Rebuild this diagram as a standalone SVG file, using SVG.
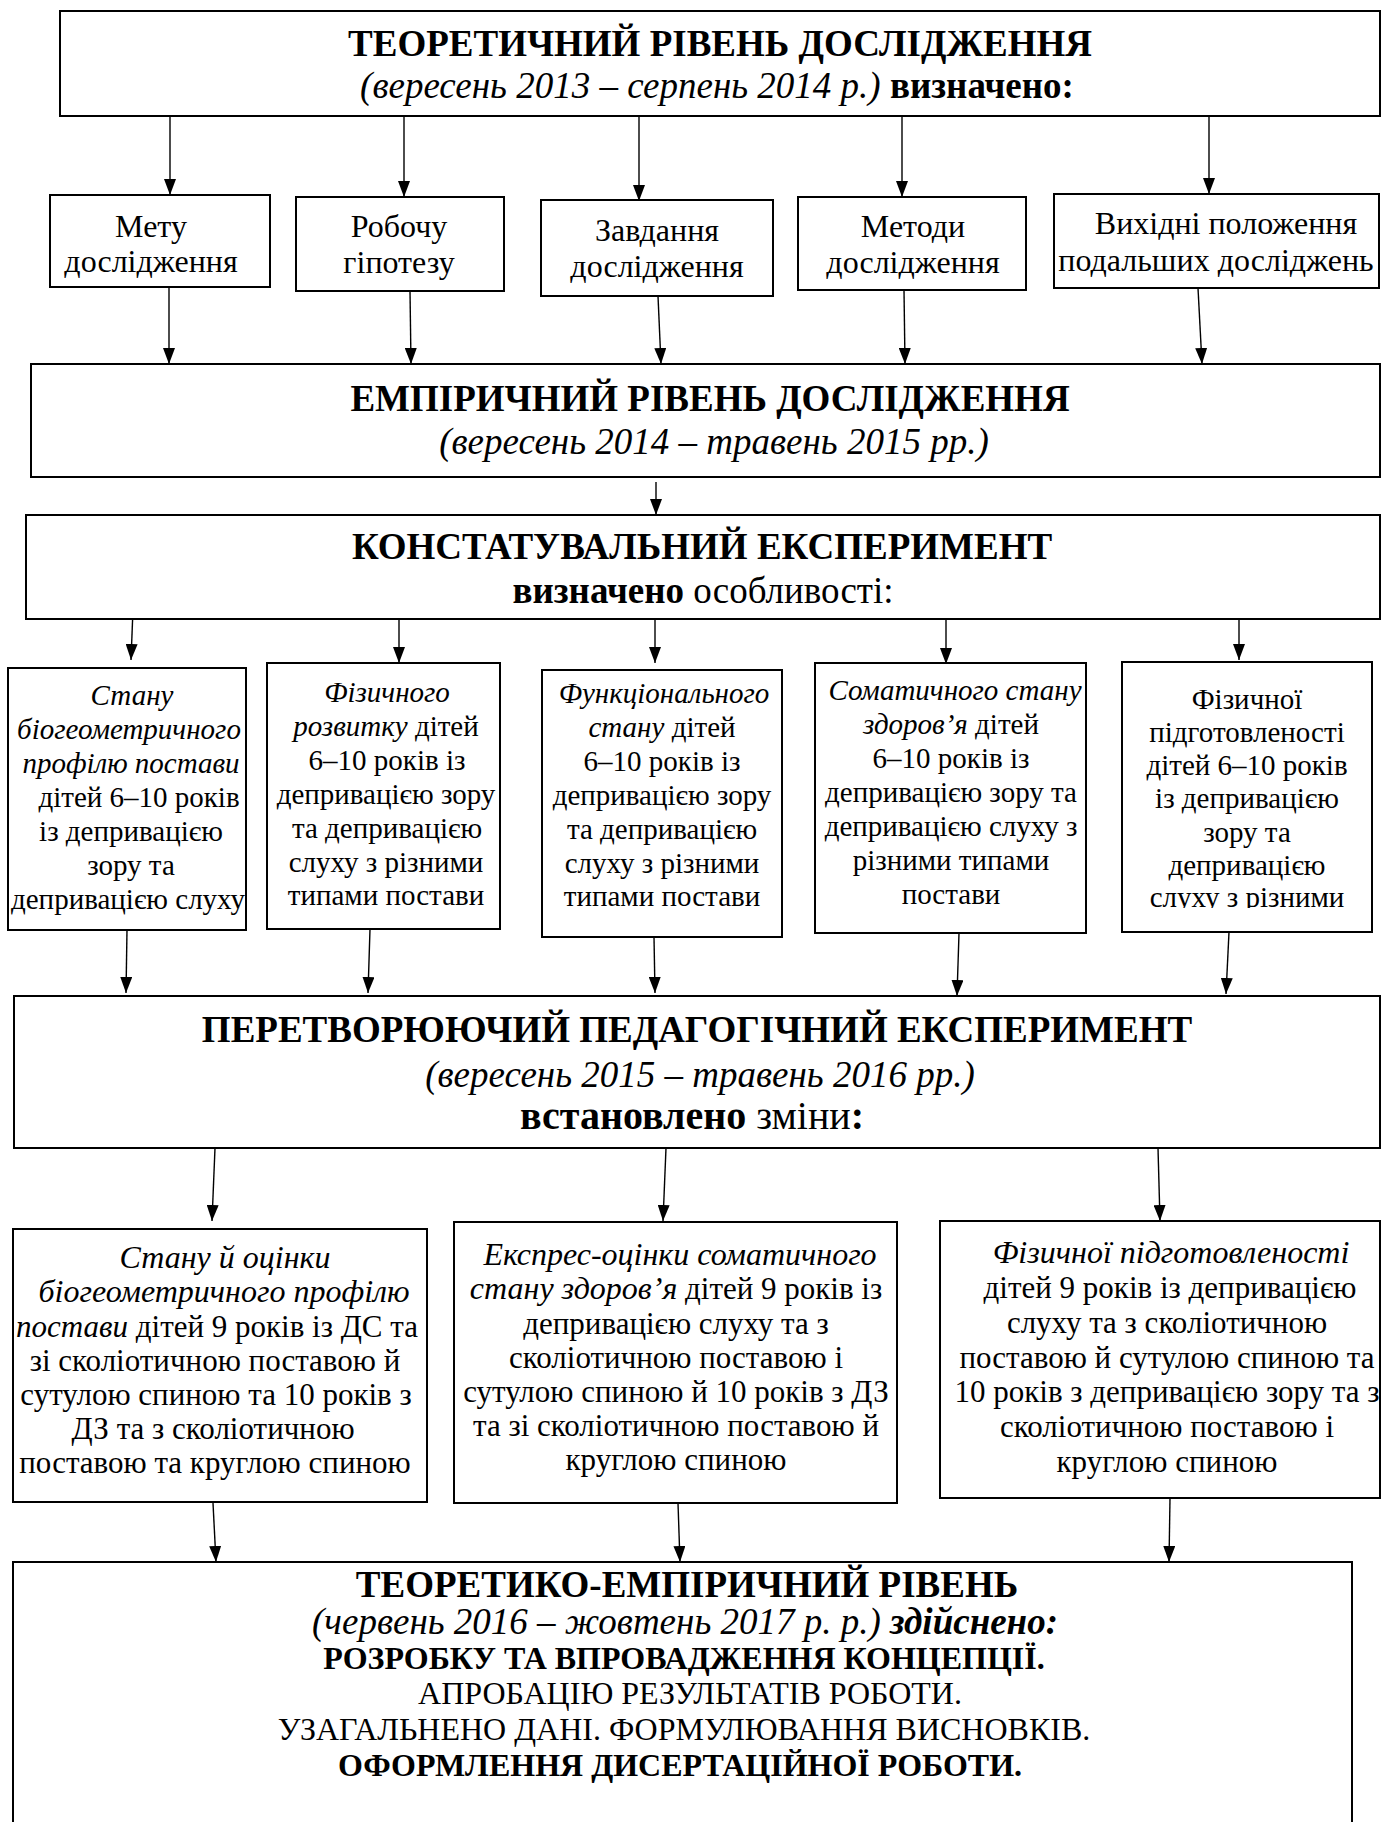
<svg xmlns="http://www.w3.org/2000/svg" width="1383" height="1822" viewBox="0 0 1383 1822">
  <style>
    .box { fill: #fff; stroke: #000; stroke-width: 2; }
    text { font-family: "Liberation Serif", "Times New Roman", serif; fill: #000; text-anchor: middle; }
    .big { font-size: 37px; }
    .r1 { font-size: 32px; }
    .r2 { font-size: 29px; }
    .r3 { font-size: 31px; }
    .r3.i, .r3 .wide { font-size: 32px; }
    .fin { font-size: 32px; }
    .b { font-weight: bold; }
    .i { font-style: italic; }
    .conn line { stroke: #000; stroke-width: 1.4; marker-end: url(#arr); }
  </style>
  <defs>
    <marker id="arr" viewBox="0 0 16 12" refX="16" refY="6" markerWidth="16" markerHeight="12" markerUnits="userSpaceOnUse" orient="auto">
      <path d="M0,0 L16,6 L0,12 z" fill="#000"/>
    </marker>
    <clipPath id="cut5">
      <rect x="1122" y="880" width="250" height="28"/>
    </clipPath>
  </defs>
  <rect width="1383" height="1822" fill="#fff"/>

  <!-- connectors -->
  <g id="connectors" class="conn">
    <line x1="170" y1="116" x2="170" y2="195"/>
    <line x1="404" y1="116" x2="404" y2="197"/>
    <line x1="639" y1="116" x2="639" y2="201"/>
    <line x1="902" y1="116" x2="902" y2="197"/>
    <line x1="1209" y1="116" x2="1209" y2="194"/>

    <line x1="169" y1="287" x2="169" y2="364"/>
    <line x1="410" y1="291" x2="411" y2="364"/>
    <line x1="658" y1="296" x2="661" y2="364"/>
    <line x1="904" y1="290" x2="905" y2="364"/>
    <line x1="1198" y1="288" x2="1202" y2="364"/>

    <line x1="656" y1="482" x2="656" y2="515"/>

    <line x1="133" y1="609" x2="131" y2="660"/>
    <line x1="399" y1="619" x2="399" y2="663"/>
    <line x1="655" y1="619" x2="655" y2="663"/>
    <line x1="946" y1="619" x2="946" y2="664"/>
    <line x1="1239" y1="607" x2="1239" y2="660"/>

    <line x1="127" y1="930" x2="126" y2="993"/>
    <line x1="370" y1="929" x2="368" y2="993"/>
    <line x1="654" y1="937" x2="655" y2="993"/>
    <line x1="959" y1="933" x2="957" y2="996"/>
    <line x1="1229" y1="932" x2="1226" y2="994"/>

    <line x1="215" y1="1148" x2="212" y2="1221"/>
    <line x1="666" y1="1148" x2="663" y2="1221"/>
    <line x1="1158" y1="1148" x2="1160" y2="1221"/>

    <line x1="213" y1="1503" x2="216" y2="1562"/>
    <line x1="678" y1="1503" x2="680" y2="1562"/>
    <line x1="1170" y1="1498" x2="1169" y2="1562"/>
  </g>

  <!-- theoretical level -->
  <g id="theory">
    <rect class="box" x="60" y="11" width="1320" height="105"/>
    <text class="big b" x="720" y="56">ТЕОРЕТИЧНИЙ РІВЕНЬ ДОСЛІДЖЕННЯ</text>
    <text class="big" x="717" y="98"><tspan class="i">(вересень 2013 – серпень 2014 р.)</tspan> <tspan class="b">визначено:</tspan></text>
  </g>

  <g id="goal">
    <rect class="box" x="50" y="195" width="220" height="92"/>
    <text class="r1" x="151" y="237">Мету</text>
    <text class="r1" x="151" y="272">дослідження</text>
  </g>
  <g id="hypothesis">
    <rect class="box" x="296" y="197" width="208" height="94"/>
    <text class="r1" x="399" y="237">Робочу</text>
    <text class="r1" x="399" y="273">гіпотезу</text>
  </g>
  <g id="tasks">
    <rect class="box" x="541" y="200" width="232" height="96"/>
    <text class="r1" x="657" y="241">Завдання</text>
    <text class="r1" x="657" y="277">дослідження</text>
  </g>
  <g id="methods">
    <rect class="box" x="798" y="197" width="228" height="93"/>
    <text class="r1" x="913" y="237">Методи</text>
    <text class="r1" x="913" y="273">дослідження</text>
  </g>
  <g id="premises">
    <rect class="box" x="1054" y="194" width="325" height="94"/>
    <text class="r1" x="1226" y="234">Вихідні положення</text>
    <text class="r1" x="1216" y="271">подальших досліджень</text>
  </g>

  <!-- empirical level -->
  <g id="empirical">
    <rect class="box" x="31" y="364" width="1349" height="113"/>
    <text class="big b" x="710" y="411">ЕМПІРИЧНИЙ РІВЕНЬ ДОСЛІДЖЕННЯ</text>
    <text class="big i" x="714" y="454">(вересень 2014 – травень 2015 рр.)</text>
  </g>

  <g id="ascertaining">
    <rect class="box" x="26" y="515" width="1354" height="104"/>
    <text class="big b" x="702" y="559">КОНСТАТУВАЛЬНИЙ ЕКСПЕРИМЕНТ</text>
    <text class="big" x="703" y="603"><tspan class="b">визначено</tspan> особливості:</text>
  </g>

  <g id="posture">
    <rect class="box" x="8" y="668" width="238" height="262"/>
    <text class="r2 i" x="132" y="705">Стану</text>
    <text class="r2 i" x="129" y="739">біогеометричного</text>
    <text class="r2 i" x="131" y="773">профілю постави</text>
    <text class="r2" x="139" y="807">дітей 6–10 років</text>
    <text class="r2" x="131" y="841">із депривацією</text>
    <text class="r2" x="131" y="875">зору та</text>
    <text class="r2" x="128" y="909">депривацією слуху</text>
  </g>
  <g id="development">
    <rect class="box" x="267" y="663" width="233" height="266"/>
    <text class="r2 i" x="387" y="702">Фізичного</text>
    <text class="r2" x="386" y="736"><tspan class="i">розвитку</tspan> дітей</text>
    <text class="r2" x="387" y="770">6–10 років із</text>
    <text class="r2" x="386" y="804">депривацією зору</text>
    <text class="r2" x="387" y="838">та депривацією</text>
    <text class="r2" x="386" y="872">слуху з різними</text>
    <text class="r2" x="386" y="905">типами постави</text>
  </g>
  <g id="functional">
    <rect class="box" x="542" y="670" width="240" height="267"/>
    <text class="r2 i" x="664" y="703">Функціонального</text>
    <text class="r2" x="662" y="737"><tspan class="i">стану</tspan> дітей</text>
    <text class="r2" x="662" y="771">6–10 років із</text>
    <text class="r2" x="662" y="805">депривацією зору</text>
    <text class="r2" x="662" y="839">та депривацією</text>
    <text class="r2" x="662" y="873">слуху з різними</text>
    <text class="r2" x="662" y="906">типами постави</text>
  </g>
  <g id="somatic">
    <rect class="box" x="815" y="663" width="271" height="270"/>
    <text class="r2 i" x="955" y="700">Соматичного стану</text>
    <text class="r2" x="951" y="734"><tspan class="i">здоров’я</tspan> дітей</text>
    <text class="r2" x="951" y="768">6–10 років із</text>
    <text class="r2" x="951" y="802">депривацією зору та</text>
    <text class="r2" x="951" y="836">депривацією слуху з</text>
    <text class="r2" x="951" y="870">різними типами</text>
    <text class="r2" x="951" y="904">постави</text>
  </g>
  <g id="fitness">
    <rect class="box" x="1122" y="662" width="250" height="270"/>
    <text class="r2" x="1247" y="709">Фізичної</text>
    <text class="r2" x="1247" y="742">підготовленості</text>
    <text class="r2" x="1247" y="775">дітей 6–10 років</text>
    <text class="r2" x="1247" y="808">із депривацією</text>
    <text class="r2" x="1247" y="842">зору та</text>
    <text class="r2" x="1247" y="875">депривацією</text>
    <text class="r2" x="1247" y="907" clip-path="url(#cut5)">слуху з різними</text>
  </g>

  <!-- formative experiment -->
  <g id="formative">
    <rect class="box" x="14" y="996" width="1366" height="152"/>
    <text class="big b" x="697" y="1042">ПЕРЕТВОРЮЮЧИЙ ПЕДАГОГІЧНИЙ ЕКСПЕРИМЕНТ</text>
    <text class="big i" x="700" y="1087">(вересень 2015 – травень 2016 рр.)</text>
    <text class="big" x="692" y="1129" style="font-size:40px"><tspan class="b">встановлено</tspan> зміни<tspan class="b">:</tspan></text>
  </g>

  <g id="posture-change">
    <rect class="box" x="13" y="1229" width="414" height="273"/>
    <text class="r3 i" x="225" y="1268">Стану й оцінки</text>
    <text class="r3 i" x="224" y="1302">біогеометричного профілю</text>
    <text class="r3" x="217" y="1337"><tspan class="i">постави</tspan> дітей 9 років із ДС та</text>
    <text class="r3" x="215" y="1371">зі сколіотичною поставою й</text>
    <text class="r3" x="216" y="1405">сутулою спиною та 10 років з</text>
    <text class="r3" x="213" y="1439">ДЗ та з сколіотичною</text>
    <text class="r3" x="215" y="1473">поставою та круглою спиною</text>
  </g>
  <g id="somatic-change">
    <rect class="box" x="454" y="1222" width="443" height="281"/>
    <text class="r3 i" x="680" y="1265">Експрес-оцінки соматичного</text>
    <text class="r3" x="676" y="1299"><tspan class="i wide">стану здоров’я</tspan> дітей 9 років із</text>
    <text class="r3" x="676" y="1334">депривацією слуху та з</text>
    <text class="r3" x="676" y="1368">сколіотичною поставою і</text>
    <text class="r3" x="676" y="1402">сутулою спиною й 10 років з ДЗ</text>
    <text class="r3" x="676" y="1436">та зі сколіотичною поставою й</text>
    <text class="r3" x="676" y="1470">круглою спиною</text>
  </g>
  <g id="fitness-change">
    <rect class="box" x="940" y="1221" width="440" height="277"/>
    <text class="r3 i" x="1171" y="1263">Фізичної підготовленості</text>
    <text class="r3" x="1170" y="1298">дітей 9 років із депривацією</text>
    <text class="r3" x="1167" y="1333">слуху та з сколіотичною</text>
    <text class="r3" x="1167" y="1368">поставою й сутулою спиною та</text>
    <text class="r3" x="1167" y="1402">10 років з депривацією зору та з</text>
    <text class="r3" x="1167" y="1437">сколіотичною поставою і</text>
    <text class="r3" x="1167" y="1472">круглою спиною</text>
  </g>

  <!-- theoretical-empirical level -->
  <g id="synthesis">
    <rect class="box" x="13" y="1562" width="1339" height="300"/>
    <text class="big b" x="687" y="1597">ТЕОРЕТИКО-ЕМПІРИЧНИЙ РІВЕНЬ</text>
    <text class="big" x="685" y="1634"><tspan class="i">(червень 2016 – жовтень 2017 р. р.)</tspan> <tspan class="b i">здійснено:</tspan></text>
    <text class="fin b" x="684" y="1669">РОЗРОБКУ ТА ВПРОВАДЖЕННЯ КОНЦЕПЦІЇ.</text>
    <text class="fin" x="690" y="1704">АПРОБАЦІЮ РЕЗУЛЬТАТІВ РОБОТИ.</text>
    <text class="fin" x="684" y="1740">УЗАГАЛЬНЕНО ДАНІ. ФОРМУЛЮВАННЯ ВИСНОВКІВ.</text>
    <text class="fin b" x="680" y="1776">ОФОРМЛЕННЯ ДИСЕРТАЦІЙНОЇ РОБОТИ.</text>
  </g>
</svg>
